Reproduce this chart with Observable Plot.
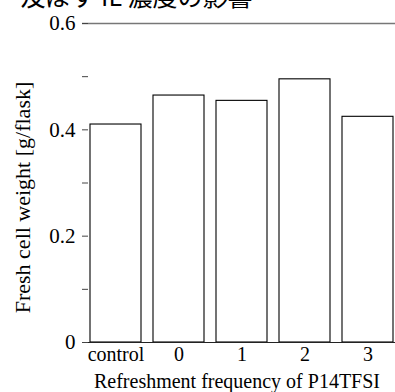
<!DOCTYPE html>
<html>
<head>
<meta charset="utf-8">
<script src="https://cdn.jsdelivr.net/npm/d3@7"></script>
<script src="https://cdn.jsdelivr.net/npm/@observablehq/plot@0.6"></script>
<style>
  body { margin: 0; background: #fff; }
  svg { display: block; }
</style>
</head>
<body>
<div id="chart"></div>
<script>
const categories = ["control", "0", "1", "2", "3"];
const weights = [0.410, 0.4645, 0.4545, 0.495, 0.4245];
const yTickLabels = [0, 0.2, 0.4, 0.6];
const yMinorTicks = [0.1, 0.3, 0.5];
const titleText = "及ぼす IL 濃度の影響";
const xLabel = "Refreshment frequency of P14TFSI";
const yLabel = "Fresh cell weight [g/flask]";

const data = categories.map((c, i) => ({cat: c, val: weights[i]}));
const serif = "'Liberation Serif', 'DejaVu Serif', serif";

const W = 395, H = 392, ML = 82, MR = 0, MT = 23, MB = 50;
const frameW = W - ML - MR;
const frameH = H - MT - MB;

const chart = Plot.plot({
  width: W,
  height: H,
  marginLeft: ML,
  marginRight: MR,
  marginTop: MT,
  marginBottom: MB,
  style: {fontFamily: serif, background: "white", overflow: "hidden"},
  x: {domain: categories, range: [89.3, 394], paddingInner: 0.19, paddingOuter: 0, label: null},
  y: {domain: [0, 0.6], label: null},
  marks: [
    Plot.barY(data, {x: "cat", y: "val", fill: "white", stroke: "black", strokeWidth: 1.1}),
    Plot.ruleY([0.6], {stroke: "#777", strokeWidth: 1.5}),
    Plot.ruleY([0], {stroke: "#222", strokeWidth: 1.2}),
    Plot.ruleY([...yTickLabels, ...yMinorTicks], {stroke: "#444", strokeWidth: 1, insetRight: frameW - 6}),
    Plot.axisY({ticks: yTickLabels, tickSize: 0, tickPadding: 7, line: true, stroke: "#444",
      fontSize: 21, fontFamily: serif, fill: "black", tickFormat: d => d === 0 ? "0" : d.toFixed(1), label: null}),
    Plot.axisX({tickSize: 0, tickPadding: 4, fontSize: 20, fontFamily: serif, fill: "black", label: null}),
    Plot.text([xLabel], {frameAnchor: "bottom", textAnchor: "middle", dy: 39, dx: -2, fontSize: 20, fontFamily: serif, fill: "black", lineAnchor: "middle"}),
    Plot.text([yLabel], {frameAnchor: "left", textAnchor: "middle", dx: -60, dy: 197 - (MT + frameH / 2), rotate: -90, fontSize: 22, fontFamily: serif, fill: "black", lineAnchor: "middle"}),
    Plot.text([titleText], {frameAnchor: "top-left", dx: 20 - ML, dy: -3 - MT, textAnchor: "start", lineAnchor: "middle", fontSize: 25, fontFamily: "'Noto Sans CJK JP', sans-serif", fill: "black"})
  ]
});
document.getElementById("chart").appendChild(chart);
</script>
</body>
</html>
